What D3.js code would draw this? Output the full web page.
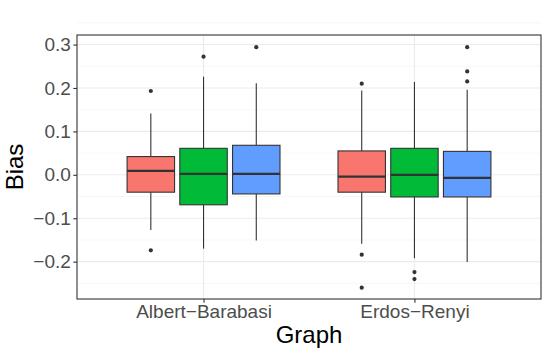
<!DOCTYPE html>
<html lang="en">
<head>
  <meta charset="UTF-8">
  <title>Bias by Graph</title>
  <script src="https://d3js.org/d3.v7.min.js"></script>
  <style>
    body { margin: 0; background: #fff; }
    svg { display: block; font-family: 'Liberation Sans', Arial, sans-serif; }
  </style>
</head>
<body>
  <svg id="chart" width="551" height="356"></svg>
  <script>
    // data
    const graphs = ["Albert\u2212Barabasi", "Erdos\u2212Renyi"];
    const methods = ["m1", "m2", "m3"];
    const colors = ["#F8766D", "#00BA38", "#619CFF"];

    // [graph][method]
    const whiskerLow = [[-0.127, -0.170, -0.151], [-0.159, -0.192, -0.201]];
    const q1 = [[-0.040, -0.069, -0.044], [-0.040, -0.051, -0.051]];
    const median = [[0.009, 0.002, 0.002], [-0.004, 0.000, -0.007]];
    const q3 = [[0.042, 0.061, 0.068], [0.055, 0.061, 0.054]];
    const whiskerHigh = [[0.141, 0.226, 0.211], [0.194, 0.214, 0.196]];
    const outliers = [
      [[0.193, -0.174], [0.272], [0.294]],
      [[0.210, -0.184, -0.260], [-0.224, -0.240], [0.294, 0.238, 0.215]]
    ];

    const yTicks = [-0.2, -0.1, 0.0, 0.1, 0.2, 0.3];

    const svg = d3.select("#chart");
    const panel = { left: 77, right: 541, top: 35, bottom: 299 };

    const x = d3.scalePoint().domain(graphs).range([panel.left, panel.right]).padding(0.6);
    const step = x.step();
    const dodge = d3.scaleBand().domain(methods)
      .range([-0.375 * step, 0.375 * step])
      .paddingInner(0.1).paddingOuter(0.05);
    const y = d3.scaleLinear().domain([-0.286, 0.322]).range([panel.bottom, panel.top]);

    // grid
    const minor = yTicks.map(t => t + 0.05).concat([yTicks[0] - 0.05]);
    svg.append("g").selectAll("line").data(minor).enter().append("line")
      .attr("x1", panel.left).attr("x2", panel.right)
      .attr("y1", d => y(d)).attr("y2", d => y(d))
      .attr("stroke", "#F2F2F2").attr("stroke-width", 0.6);
    svg.append("g").selectAll("line").data(yTicks).enter().append("line")
      .attr("x1", panel.left).attr("x2", panel.right)
      .attr("y1", d => y(d)).attr("y2", d => y(d))
      .attr("stroke", "#EBEBEB").attr("stroke-width", 1.1);
    svg.append("g").selectAll("line").data(graphs).enter().append("line")
      .attr("x1", d => x(d)).attr("x2", d => x(d))
      .attr("y1", panel.top).attr("y2", panel.bottom)
      .attr("stroke", "#EBEBEB").attr("stroke-width", 1.1);

    // boxes
    const boxes = [];
    graphs.forEach((g, gi) => methods.forEach((m, mi) => boxes.push({ g, gi, m, mi })));
    const bw = dodge.bandwidth();
    const cx = d => x(d.g) + dodge(d.m) + bw / 2;

    const box = svg.append("g").selectAll("g").data(boxes).enter().append("g");
    box.append("line")
      .attr("x1", cx).attr("x2", cx)
      .attr("y1", d => y(whiskerHigh[d.gi][d.mi])).attr("y2", d => y(q3[d.gi][d.mi]))
      .attr("stroke", "#333333").attr("stroke-width", 1.1);
    box.append("line")
      .attr("x1", cx).attr("x2", cx)
      .attr("y1", d => y(q1[d.gi][d.mi])).attr("y2", d => y(whiskerLow[d.gi][d.mi]))
      .attr("stroke", "#333333").attr("stroke-width", 1.1);
    box.append("rect")
      .attr("x", d => cx(d) - bw / 2).attr("width", bw)
      .attr("y", d => y(q3[d.gi][d.mi]))
      .attr("height", d => y(q1[d.gi][d.mi]) - y(q3[d.gi][d.mi]))
      .attr("fill", d => colors[d.mi])
      .attr("stroke", "#333333").attr("stroke-width", 1.1);
    box.append("line")
      .attr("x1", d => cx(d) - bw / 2).attr("x2", d => cx(d) + bw / 2)
      .attr("y1", d => y(median[d.gi][d.mi])).attr("y2", d => y(median[d.gi][d.mi]))
      .attr("stroke", "#333333").attr("stroke-width", 2.2);
    box.selectAll("circle").data(d => outliers[d.gi][d.mi].map(v => ({ v, c: cx(d) })))
      .enter().append("circle")
      .attr("cx", d => d.c).attr("cy", d => y(d.v)).attr("r", 2.1)
      .attr("fill", "#333333");

    // panel border
    svg.append("rect")
      .attr("x", panel.left).attr("y", panel.top)
      .attr("width", panel.right - panel.left).attr("height", panel.bottom - panel.top)
      .attr("fill", "none").attr("stroke", "#333333").attr("stroke-width", 1.1);

    // axes
    const yAxis = svg.append("g").attr("transform", `translate(${panel.left},0)`)
      .call(d3.axisLeft(y).tickValues(yTicks).tickFormat(d3.format(".1f")).tickSizeOuter(0).tickSize(3.7).tickPadding(2.5));
    const xAxis = svg.append("g").attr("transform", `translate(0,${panel.bottom})`)
      .call(d3.axisBottom(x).tickSizeOuter(0).tickSize(3.7).tickPadding(2));
    [yAxis, xAxis].forEach(a => {
      a.select(".domain").remove();
      a.selectAll(".tick line").attr("stroke", "#333333").attr("stroke-width", 1.1);
      a.selectAll(".tick text").attr("fill", "#4D4D4D")
        .style("font-size", "19px").style("font-family", "'Liberation Sans', Arial, sans-serif");
    });

    svg.append("text")
      .attr("x", (panel.left + panel.right) / 2).attr("y", 343)
      .attr("text-anchor", "middle").style("font-size", "24px").attr("fill", "#000")
      .text("Graph");
    svg.append("text")
      .attr("transform", `translate(23,${(panel.top + panel.bottom) / 2}) rotate(-90)`)
      .attr("text-anchor", "middle").style("font-size", "24px").attr("fill", "#000")
      .text("Bias");
  </script>
</body>
</html>
